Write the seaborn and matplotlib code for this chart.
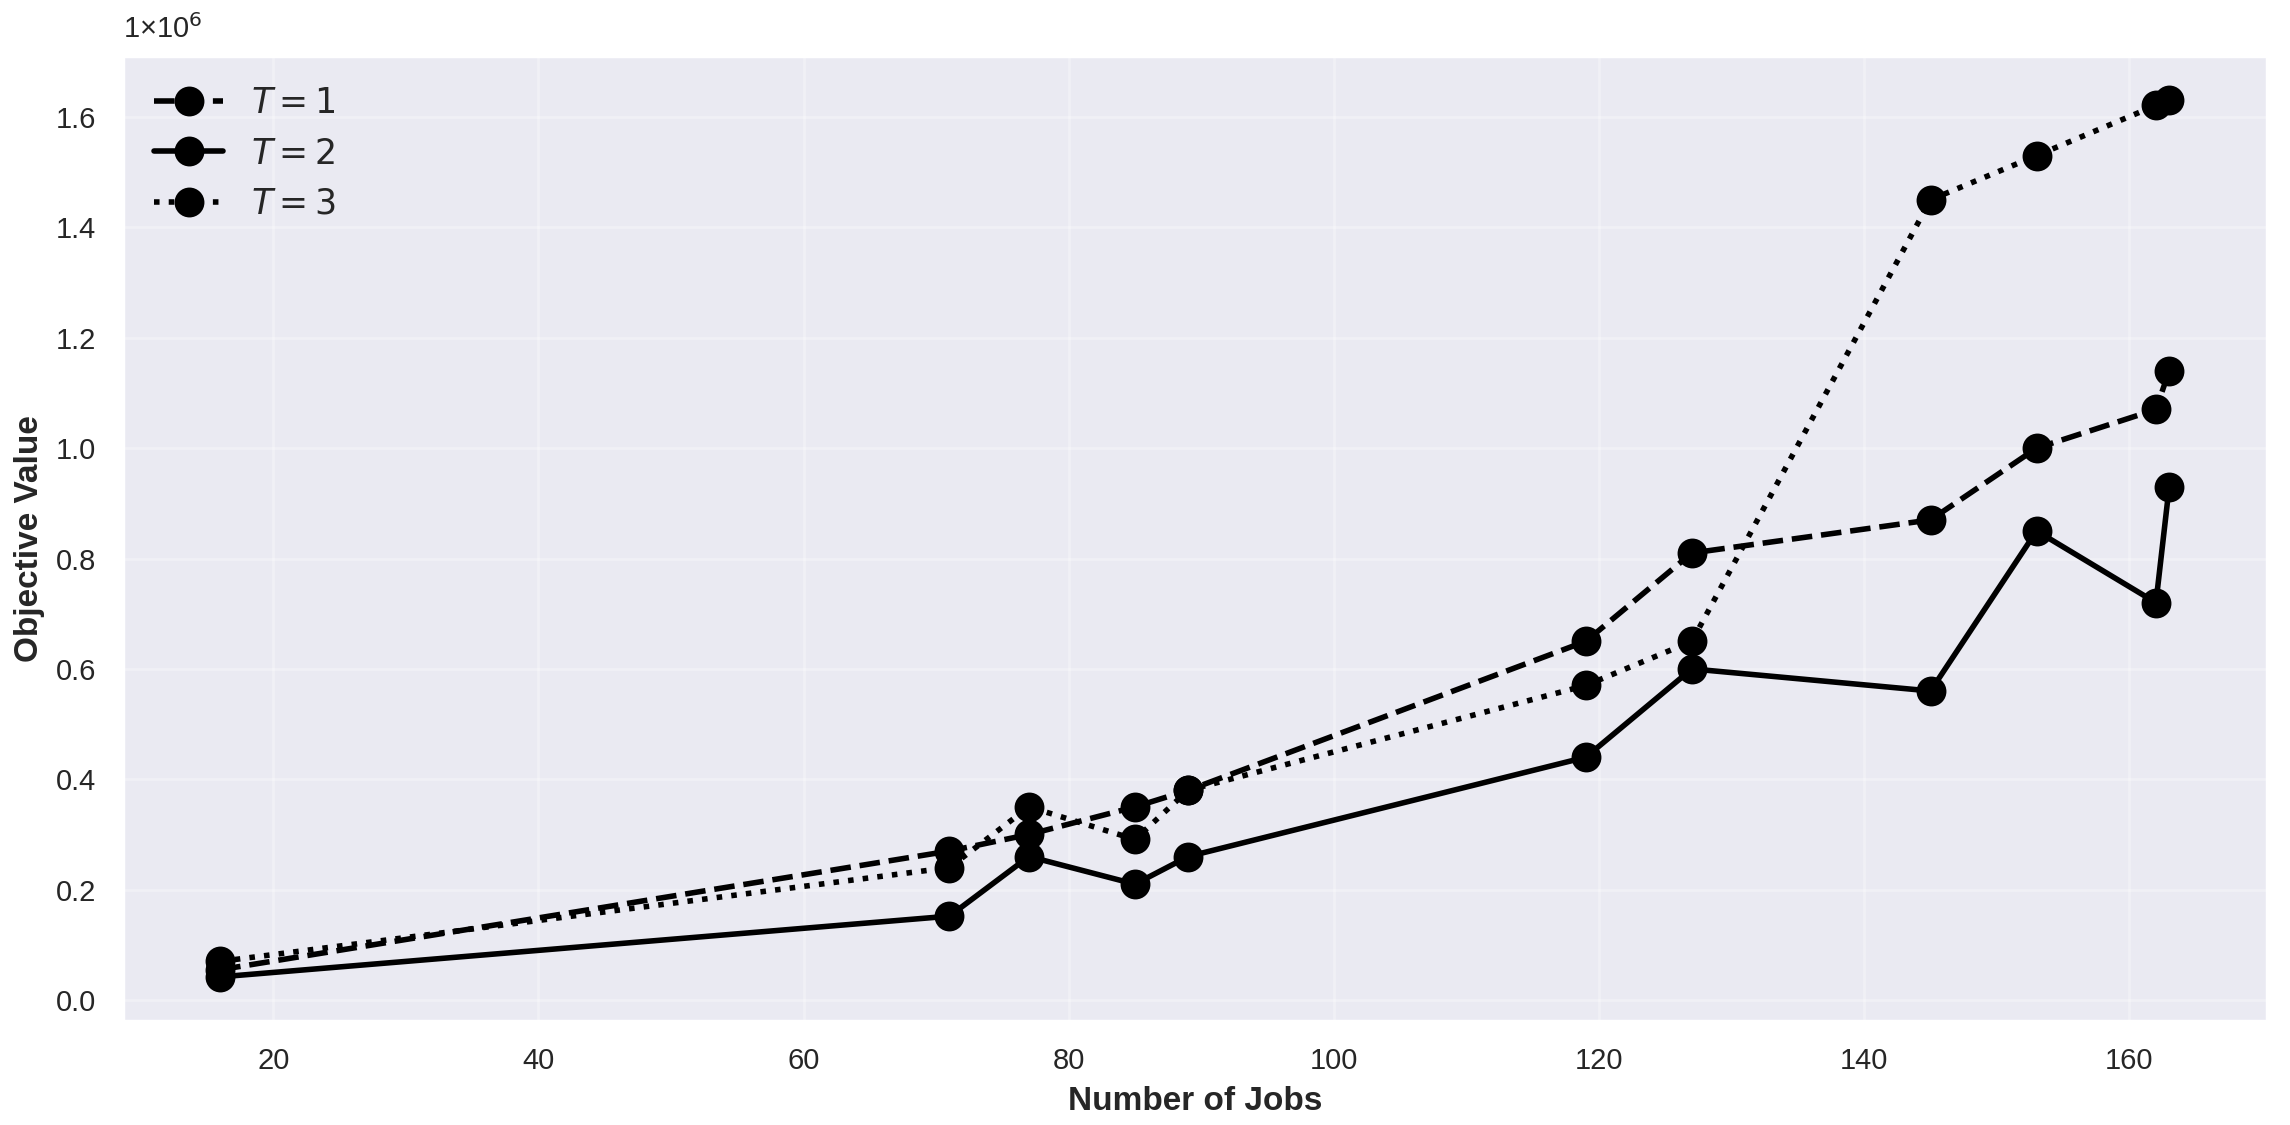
import matplotlib
matplotlib.use("Agg")
import matplotlib.pyplot as plt
import seaborn as sns
import pandas as pd
from matplotlib.ticker import FuncFormatter

# ---- data ----
jobs = [16, 71, 77, 85, 89, 119, 127, 145, 153, 162, 163]
obj_t1 = [55000, 270000, 300000, 350000, 380000, 650000, 810000, 870000, 1000000, 1070000, 1140000]
obj_t2 = [42000, 152000, 260000, 210000, 260000, 440000, 600000, 560000, 850000, 720000, 930000]
obj_t3 = [70000, 240000, 350000, 291000, 380000, 570000, 650000, 1450000, 1530000, 1621000, 1631000]
series_labels = ["$T = 1$", "$T = 2$", "$T = 3$"]
x_label = "Number of Jobs"
y_label = "Objective Value"
offset_label = "1×10$^{6}$"

sns.set_theme(style="darkgrid")
plt.rcParams["font.family"] = ["Liberation Sans", "DejaVu Sans"]
plt.rcParams["mathtext.fontset"] = "dejavusans"
plt.rcParams["text.color"] = "#262626"
plt.rcParams["axes.labelcolor"] = "#262626"
plt.rcParams["xtick.color"] = "#262626"
plt.rcParams["ytick.color"] = "#262626"

fig, ax = plt.subplots(figsize=(11.45, 5.625), dpi=200)
fig.subplots_adjust(left=0.0536, right=0.9898, bottom=0.0927, top=0.9502)

styles = ["--", "-", ":"]
for vals, lab, ls in zip([obj_t1, obj_t2, obj_t3], series_labels, styles):
    df = pd.DataFrame({"jobs": jobs, "obj": vals})
    sns.lineplot(data=df, x="jobs", y="obj", ax=ax, color="black", linestyle=ls,
                 linewidth=2, marker="o", markersize=10, markeredgecolor="black",
                 markeredgewidth=0.75, label=lab)

ax.yaxis.set_major_formatter(FuncFormatter(lambda v, p: f"{v/1e6:.1f}"))
ax.tick_params(axis="both", labelsize=10.5)
ax.set_xlabel(x_label, fontsize=12, fontweight="bold")
ax.set_ylabel(y_label, fontsize=12, fontweight="bold")
ax.grid(True, color="white", alpha=0.3, linewidth=1)
ax.text(0.0, 1.012, offset_label, transform=ax.transAxes, fontsize=10.5,
        ha="left", va="bottom", color="#262626")

ax.legend(loc="upper left", frameon=False, fontsize=12.5)

fig.savefig("out.png", dpi=200)
